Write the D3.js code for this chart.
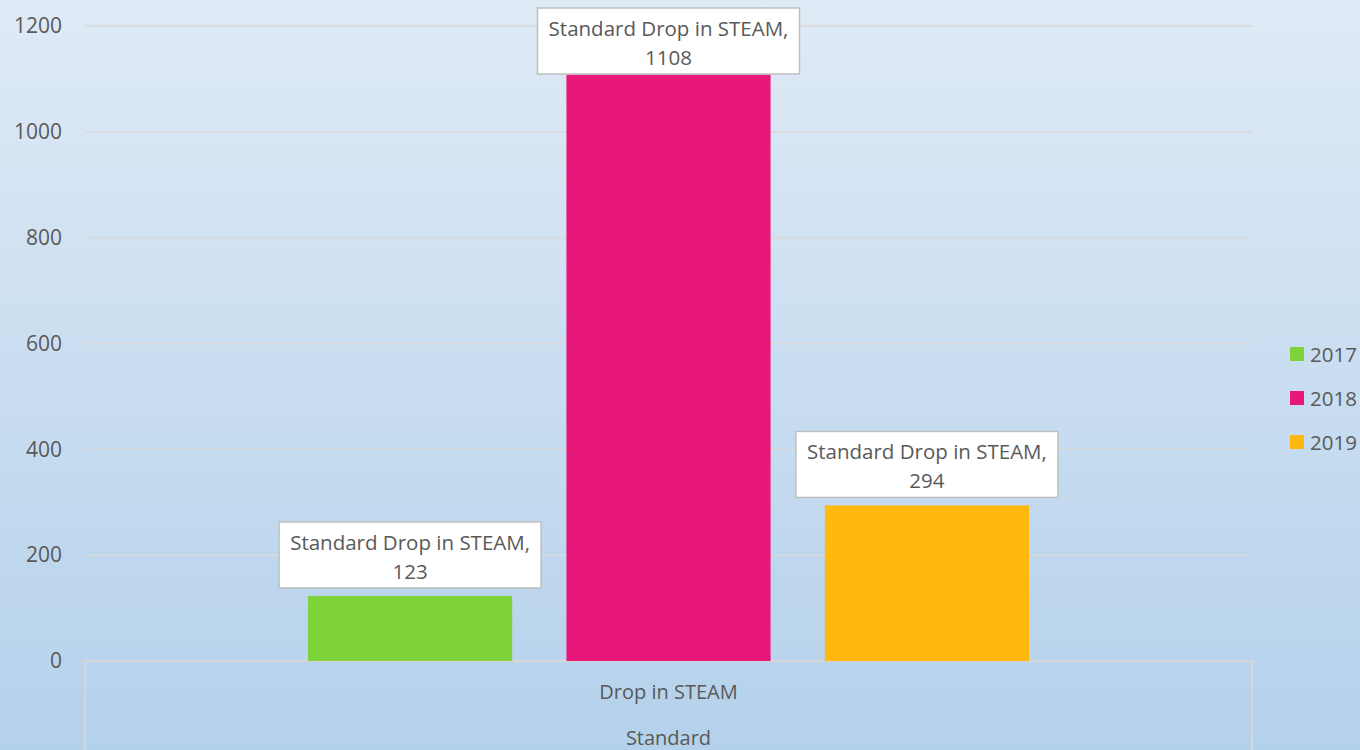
<!DOCTYPE html>
<html>
<head>
<meta charset="utf-8">
<script src="https://cdn.jsdelivr.net/npm/d3@7"></script>
<style>
  html, body { margin: 0; padding: 0; }
  svg { display: block; font-family: "Open Sans", "Liberation Sans", sans-serif; }
</style>
</head>
<body>
<script>
const width = 1360,
    height = 750;

// data
const groups = ['Standard'];
const categories = ['Drop in STEAM'];
const years = ['2017', '2018', '2019'];
const values = [123, 1108, 294];
const yTicks = [0, 200, 400, 600, 800, 1000, 1200];
const colors = ['#7ed33a', '#e8177a', '#ffb80d'];

const margin = {top: 26, right: 108, bottom: 89, left: 85};

var svg = d3.select('body').append('svg')
    .attr('width', width)
    .attr('height', height);

var defs = svg.append('defs');
var grad = defs.append('linearGradient')
    .attr('id', 'bg-gradient')
    .attr('x1', 0).attr('y1', 0).attr('x2', 0).attr('y2', 1);
grad.append('stop').attr('offset', '0%').attr('stop-color', '#dfeaf6');
grad.append('stop').attr('offset', '100%').attr('stop-color', '#b4d1eb');

svg.append('rect')
    .attr('width', width)
    .attr('height', height)
    .attr('fill', 'url(#bg-gradient)');

var y = d3.scaleLinear()
    .domain([0, 1200])
    .range([height - margin.bottom, margin.top]);

var x0 = d3.scaleBand()
    .domain(categories)
    .range([margin.left, width - margin.right]);

var x1 = d3.scaleBand()
    .domain(years)
    .range([0, x0.bandwidth()])
    .paddingInner(0.21)
    .paddingOuter(0.863);

// gridlines
svg.append('g')
    .selectAll('line')
    .data(yTicks.filter(d => d > 0))
  .enter().append('line')
    .attr('x1', margin.left)
    .attr('x2', width - margin.right)
    .attr('y1', d => y(d))
    .attr('y2', d => y(d))
    .attr('stroke', '#d9d9d9')
    .attr('stroke-width', 1.5);

// y axis labels
var yAxis = svg.append('g')
    .attr('transform', `translate(${margin.left},0)`)
    .call(d3.axisLeft(y).tickValues(yTicks).tickFormat(d3.format('d')).tickSize(0).tickPadding(23));
yAxis.select('.domain').remove();
yAxis.selectAll('text')
    .attr('fill', '#595959')
    .style('font-size', '21px')
    .style('font-family', '"Open Sans", sans-serif');

// category axis box
var x0pos = margin.left, x1pos = width - margin.right, y0 = y(0);
svg.append('path')
    .attr('d', `M${x0pos},${height}V${y0}H${x1pos}V${height}`)
    .attr('fill', 'none')
    .attr('stroke', '#d6d6d6')
    .attr('stroke-width', 2);

svg.append('g')
    .selectAll('text')
    .data(categories)
  .enter().append('text')
    .attr('x', d => x0(d) + x0.bandwidth() / 2)
    .attr('y', y0 + 38)
    .attr('text-anchor', 'middle')
    .attr('fill', '#595959')
    .style('font-size', '20px')
    .text(d => d);

svg.append('text')
    .attr('x', x0(categories[0]) + x0.bandwidth() / 2)
    .attr('y', y0 + 84)
    .attr('text-anchor', 'middle')
    .attr('fill', '#595959')
    .style('font-size', '20px')
    .text(groups[0]);

// bars
var bars = svg.append('g')
    .attr('transform', `translate(${x0(categories[0])},0)`);

bars.selectAll('rect')
    .data(values)
  .enter().append('rect')
    .attr('x', (d, i) => x1(years[i]))
    .attr('y', d => y(d))
    .attr('width', x1.bandwidth())
    .attr('height', d => y(0) - y(d))
    .attr('fill', (d, i) => colors[i]);

// data labels
var boxH = 66, boxW = 262;
var labels = bars.selectAll('g.label')
    .data(values)
  .enter().append('g')
    .attr('class', 'label')
    .attr('transform', (d, i) => {
        var cx = x1(years[i]) + x1.bandwidth() / 2;
        var top = Math.max(8, y(d) - 8 - boxH);
        return `translate(${cx},${top})`;
    });

labels.append('rect')
    .attr('x', -boxW / 2)
    .attr('y', 0)
    .attr('width', boxW)
    .attr('height', boxH)
    .attr('fill', 'white')
    .attr('stroke', '#bfbfbf')
    .attr('stroke-width', 1.5);

labels.append('text')
    .attr('text-anchor', 'middle')
    .attr('y', 28)
    .attr('fill', '#595959')
    .style('font-size', '20.5px')
    .text(groups[0] + ' ' + categories[0] + ',');

labels.append('text')
    .attr('text-anchor', 'middle')
    .attr('y', 57)
    .attr('fill', '#595959')
    .style('font-size', '20.5px')
    .text(d => d);

// legend
var legend = svg.append('g')
    .attr('transform', 'translate(1290,347)');
var items = legend.selectAll('g')
    .data(years)
  .enter().append('g')
    .attr('transform', (d, i) => `translate(0,${i * 44})`);
items.append('rect')
    .attr('width', 14)
    .attr('height', 14)
    .attr('fill', (d, i) => colors[i]);
items.append('text')
    .attr('x', 20)
    .attr('y', 15)
    .attr('fill', '#595959')
    .style('font-size', '20.5px')
    .text(d => d);
</script>
</body>
</html>
